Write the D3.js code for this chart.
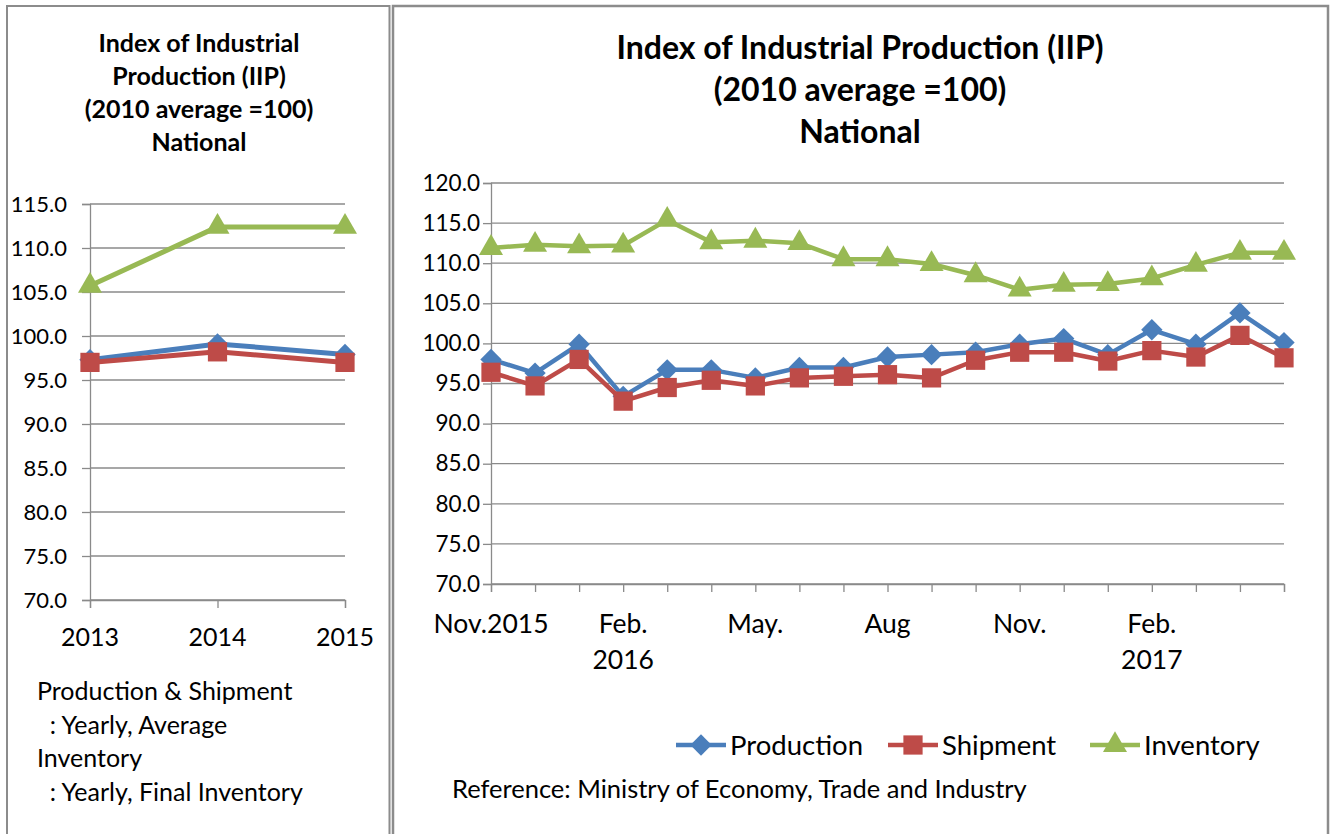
<!DOCTYPE html>
<html>
<head>
<meta charset="utf-8">
<script src="https://cdn.jsdelivr.net/npm/d3@7"></script>
<style>
  body { margin: 0; background: #fff; }
  svg { font-family: Lato, "Open Sans", sans-serif; }
</style>
</head>
<body>
<div id="chart"></div>
<script>
// yearly panel
var years = ['2013', '2014', '2015'];
var yearProduction = [97.3, 99.1, 97.9];
var yearShipment = [97.0, 98.2, 97.0];
var yearInventory = [105.7, 112.4, 112.4];

// monthly panel, Nov.2015 - May 2017
var months = ['2015-11', '2015-12', '2016-01', '2016-02', '2016-03', '2016-04', '2016-05',
  '2016-06', '2016-07', '2016-08', '2016-09', '2016-10', '2016-11', '2016-12',
  '2017-01', '2017-02', '2017-03', '2017-04', '2017-05'];
var monthLabels = ['Nov.2015', '', '', 'Feb.|2016', '', '', 'May.', '', '', 'Aug', '', '',
  'Nov.', '', '', 'Feb.|2017', '', '', ''];
var production = [98.0, 96.3, 99.9, 93.4, 96.7, 96.7, 95.7, 97.0, 97.0, 98.3,
  98.6, 98.9, 99.9, 100.6, 98.6, 101.7, 99.9, 103.8, 100.1];
var shipment = [96.4, 94.7, 98.0, 92.8, 94.5, 95.4, 94.7, 95.7, 95.9, 96.1,
  95.7, 97.9, 98.9, 98.9, 97.8, 99.1, 98.3, 101.0, 98.2];
var inventory = [111.9, 112.3, 112.1, 112.2, 115.4, 112.6, 112.8, 112.5, 110.5, 110.5,
  109.9, 108.5, 106.7, 107.3, 107.4, 108.1, 109.8, 111.3, 111.3];

var leftTicks = [70, 75, 80, 85, 90, 95, 100, 105, 110, 115];
var rightTicks = [70, 75, 80, 85, 90, 95, 100, 105, 110, 115, 120];

var series = [
  { name: 'Production', color: '#4a7ebb', shape: d3.symbolDiamond2, size: 290 },
  { name: 'Shipment', color: '#be4b48', shape: d3.symbolSquare, size: 370 },
  { name: 'Inventory', color: '#98b954', shape: d3.symbolTriangle, size: 250 }
];

var svg = d3.select('#chart').append('svg')
  .attr('width', 1330)
  .attr('height', 834);

// panel borders
var borderColor = '#8c8c8c';
svg.append('path')
  .attr('d', 'M7,840 V6 H389.5 V840')
  .attr('fill', 'none').attr('stroke', borderColor).attr('stroke-width', 2);
svg.append('path')
  .attr('d', 'M393,840 V6 H1328 V840')
  .attr('fill', 'none').attr('stroke', borderColor).attr('stroke-width', 2.5);

function drawPanel(opt) {
  var g = svg.append('g');
  var x = d3.scalePoint().domain(opt.cats).range(opt.xRange);
  var y = d3.scaleLinear().domain([70, opt.yMax]).range(opt.yRange);

  // gridlines
  g.selectAll('.grid').data(opt.ticks).enter().append('line')
    .attr('x1', opt.xRange[0]).attr('x2', opt.xRange[1])
    .attr('y1', d => y(d)).attr('y2', d => y(d))
    .attr('stroke', '#8a8a8a').attr('stroke-width', 1.3);

  // y axis
  var yAxis = g.append('g')
    .attr('transform', `translate(${opt.xRange[0]},0)`)
    .call(d3.axisLeft(y).tickValues(opt.ticks).tickSize(8).tickFormat(d3.format('.1f')));
  yAxis.select('.domain').attr('stroke', '#8a8a8a').attr('stroke-width', 1.3);
  yAxis.selectAll('.tick line').attr('stroke', '#8a8a8a').attr('stroke-width', 1.3);
  yAxis.selectAll('text')
    .attr('x', opt.yLabelX).attr('font-size', opt.yFont).attr('fill', '#000')
    .attr('font-family', 'Lato, sans-serif');

  // x axis
  var xAxis = g.append('g')
    .attr('transform', `translate(0,${opt.yRange[0]})`)
    .call(d3.axisBottom(x).tickSize(8).tickFormat(''));
  xAxis.select('.domain').attr('stroke', '#8a8a8a').attr('stroke-width', 1.3);
  xAxis.selectAll('.tick line').attr('stroke', '#8a8a8a').attr('stroke-width', 1.3);

  // x labels (two lines allowed with '|')
  opt.labels.forEach(function(lab, i) {
    if (!lab) return;
    var t = g.append('text')
      .attr('text-anchor', 'middle')
      .attr('font-size', opt.xFont)
      .attr('x', x(opt.cats[i]))
      .attr('y', opt.xLabelY);
    lab.split('|').forEach(function(part, k) {
      t.append('tspan').attr('x', x(opt.cats[i])).attr('dy', k ? opt.xLineH : 0).text(part);
    });
  });

  // lines + markers
  opt.data.forEach(function(vals, si) {
    var s = series[si];
    var line = d3.line().x((d, i) => x(opt.cats[i])).y(d => y(d));
    g.append('path').datum(vals)
      .attr('d', line)
      .attr('fill', 'none')
      .attr('stroke', s.color)
      .attr('stroke-width', opt.lineW)
      .attr('stroke-linejoin', 'round');
    g.selectAll('.m' + si).data(vals).enter().append('path')
      .attr('transform', (d, i) => `translate(${x(opt.cats[i])},${y(d)})`)
      .attr('d', d3.symbol().type(s.shape).size(s.size))
      .attr('fill', s.color);
  });

  // title
  var title = g.append('text')
    .attr('text-anchor', 'middle')
    .attr('font-weight', 'bold')
    .attr('font-size', opt.titleFont);
  opt.title.forEach(function(line, k) {
    title.append('tspan').attr('x', opt.titleX)
      .attr('y', opt.titleY + k * opt.titleLineH).text(line);
  });
  return g;
}

drawPanel({
  cats: years, labels: years,
  data: [yearProduction, yearShipment, yearInventory],
  ticks: leftTicks, yMax: 115,
  xRange: [90, 345], yRange: [600, 204],
  yLabelX: -23, yFont: 22, xFont: 25, xLabelY: 646, xLineH: 34,
  lineW: 5,
  title: ['Index of Industrial', 'Production (IIP)', '(2010 average =100)', 'National'],
  titleX: 199, titleY: 52, titleLineH: 33, titleFont: 25
});

drawPanel({
  cats: months, labels: monthLabels,
  data: [production, shipment, inventory],
  ticks: rightTicks, yMax: 120,
  xRange: [491, 1284], yRange: [584, 183],
  yLabelX: -11, yFont: 22.5, xFont: 26.5, xLabelY: 633, xLineH: 36,
  lineW: 4.5,
  title: ['Index of Industrial Production (IIP)', '(2010 average =100)', 'National'],
  titleX: 860, titleY: 59, titleLineH: 42, titleFont: 32
});

// legend
var legend = svg.append('g').attr('transform', 'translate(676,745)');
var legendX = [0, 212, 414];
series.forEach(function(s, i) {
  var lg = legend.append('g').attr('transform', `translate(${legendX[i]},0)`);
  lg.append('line').attr('x1', 0).attr('x2', 50)
    .attr('stroke', s.color).attr('stroke-width', 4.5);
  lg.append('path').attr('transform', 'translate(25,0)')
    .attr('d', d3.symbol().type(s.shape).size(s.size))
    .attr('fill', s.color);
  lg.append('text').attr('x', 54).attr('y', 10).attr('font-size', 27.5).text(s.name);
});

svg.append('text').attr('x', 452).attr('y', 798).attr('font-size', 25.5)
  .text('Reference: Ministry of Economy, Trade and Industry');

// notes under the yearly panel
var notes = ['Production & Shipment', '\u00a0\u00a0: Yearly, Average', 'Inventory', '\u00a0\u00a0: Yearly, Final Inventory'];
notes.forEach(function(n, i) {
  svg.append('text').attr('x', 37).attr('y', 700 + i * 33.5)
    .attr('font-size', 25).text(n);
});
</script>
</body>
</html>
